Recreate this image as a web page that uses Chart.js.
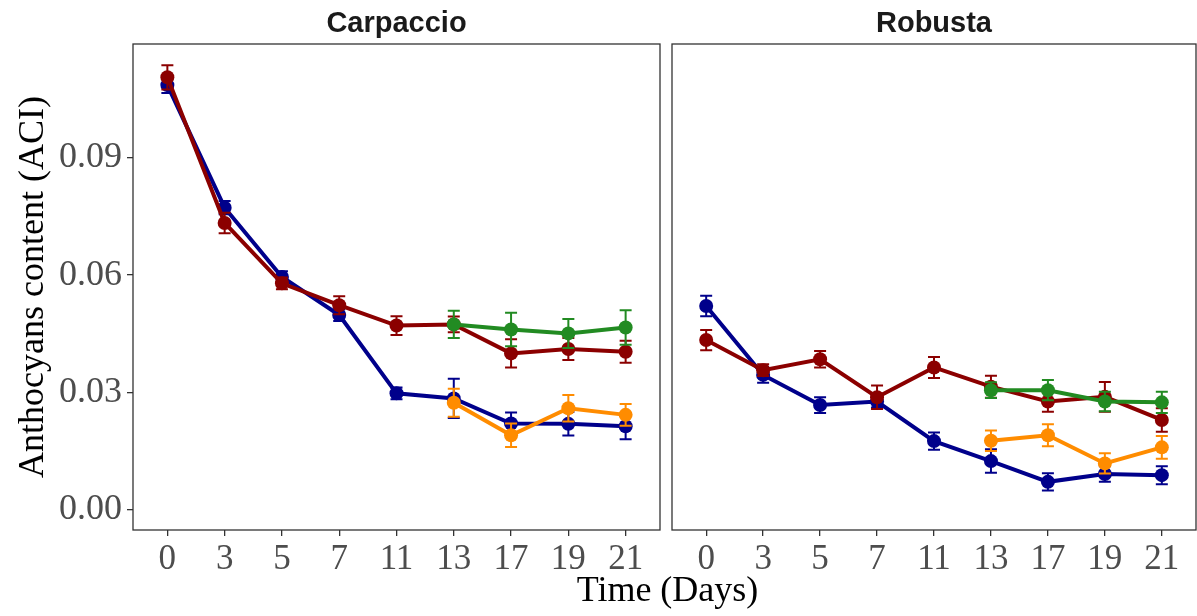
<!DOCTYPE html>
<html>
<head>
<meta charset="utf-8">
<script src="https://cdn.jsdelivr.net/npm/chart.js@4.4.1/dist/chart.umd.min.js"></script>
<style>
  html, body { margin: 0; padding: 0; background: #fff; }
  body { width: 1197px; height: 616px; position: relative; overflow: hidden; }
  .panel { position: absolute; top: 0; height: 616px; }
  .strip { position: absolute; top: 6px; font: bold 29px "Liberation Sans", Arial, sans-serif; color: #1a1a1a; text-align: center; }
  #xtitle { position: absolute; top: 568px; left: 0; width: 1335px; text-align: center; font: 36px "Liberation Serif", "Times New Roman", serif; color: #000; }
</style>
</head>
<body>
<div class="panel" style="left:0;width:661px;"><canvas id="c1"></canvas></div>
<div class="panel" style="left:661px;width:536px;"><canvas id="c2"></canvas></div>
<div class="strip" style="left:133px;width:527px;">Carpaccio</div>
<div class="strip" style="left:672px;width:524px;">Robusta</div>
<div id="xtitle">Time (Days)</div>
<script>
// ---- data ----
const days = ['0', '3', '5', '7', '11', '13', '17', '19', '21'];
const lateIdx = [5, 6, 7, 8];
const yTicks = [0, 0.03, 0.06, 0.09];

const carpBlue = [0.1085, 0.0772, 0.0595, 0.0498, 0.0298, 0.0285, 0.0221, 0.0220, 0.0214];
const carpBlueErr = [0.0020, 0.0017, 0.0015, 0.0015, 0.0015, 0.0050, 0.0028, 0.0030, 0.0033];
const carpRed = [0.1105, 0.0733, 0.0579, 0.0523, 0.0471, 0.0474, 0.0400, 0.0411, 0.0404];
const carpRedErr = [0.0031, 0.0026, 0.0015, 0.0023, 0.0024, 0.0020, 0.0036, 0.0028, 0.0028];
const carpGreen = [0.0474, 0.0461, 0.0451, 0.0466];
const carpGreenErr = [0.0035, 0.0043, 0.0037, 0.0044];
const carpOrange = [0.0274, 0.0191, 0.0260, 0.0243];
const carpOrangeErr = [0.0036, 0.0030, 0.0034, 0.0028];

const robBlue = [0.0521, 0.0345, 0.0268, 0.0277, 0.0176, 0.0125, 0.0072, 0.0092, 0.0089];
const robBlueErr = [0.0026, 0.0020, 0.0020, 0.0015, 0.0022, 0.0030, 0.0022, 0.0020, 0.0023];
const robRed = [0.0434, 0.0357, 0.0385, 0.0288, 0.0364, 0.0315, 0.0277, 0.0289, 0.0230];
const robRedErr = [0.0026, 0.0015, 0.0021, 0.0030, 0.0027, 0.0028, 0.0026, 0.0038, 0.0030];
const robGreen = [0.0306, 0.0306, 0.0277, 0.0275];
const robGreenErr = [0.0020, 0.0026, 0.0025, 0.0027];
const robOrange = [0.0177, 0.0191, 0.0119, 0.0160];
const robOrangeErr = [0.0026, 0.0028, 0.0026, 0.0029];

const colBlue = '#00008B', colRed = '#8B0000', colGreen = '#228B22', colOrange = '#FF8C00';

function pts(vals, errs, idx) {
  return vals.map((v, i) => ({ x: idx ? idx[i] : i, y: v, e: errs[i] }));
}
function ds(label, vals, errs, idx, color, order) {
  return {
    label, data: pts(vals, errs, idx), borderColor: color, backgroundColor: color,
    borderWidth: 4, pointRadius: 7, pointHoverRadius: 7, pointBorderWidth: 0,
    tension: 0, order
  };
}

const errorBars = {
  id: 'errorBars',
  beforeDatasetDraw(chart, args) {
    const d = chart.data.datasets[args.index];
    const xs = chart.scales.x, ys = chart.scales.y;
    const ctx = chart.ctx;
    ctx.save();
    ctx.strokeStyle = d.borderColor;
    ctx.lineWidth = 2;
    d.data.forEach(p => {
      const x = xs.getPixelForValue(p.x);
      const y1 = ys.getPixelForValue(p.y - p.e), y2 = ys.getPixelForValue(p.y + p.e);
      ctx.beginPath();
      ctx.moveTo(x, y1); ctx.lineTo(x, y2);
      ctx.moveTo(x - 6, y1); ctx.lineTo(x + 6, y1);
      ctx.moveTo(x - 6, y2); ctx.lineTo(x + 6, y2);
      ctx.stroke();
    });
    ctx.restore();
  }
};
const frame = {
  id: 'frame',
  afterDraw(chart) {
    const a = chart.chartArea, ctx = chart.ctx;
    ctx.save();
    ctx.strokeStyle = '#333';
    ctx.lineWidth = 1.3;
    ctx.strokeRect(a.left, a.top, a.right - a.left, a.bottom - a.top);
    ctx.restore();
  }
};

function makeChart(id, datasets, showY, padLeft) {
  return new Chart(document.getElementById(id), {
    type: 'line',
    data: { datasets },
    options: {
      responsive: true, maintainAspectRatio: false, animation: false,
      layout: { autoPadding: false, padding: { left: padLeft, right: 1, top: 44, bottom: 0 } },
      plugins: { legend: { display: false }, tooltip: { enabled: false } },
      scales: {
        x: {
          type: 'linear', min: -0.6, max: 8.6,
          afterBuildTicks: s => { s.ticks = days.map((d, i) => ({ value: i })); },
          afterFit: s => { s.height = 86; s.paddingLeft = 0; s.paddingRight = 0; },
          ticks: { callback: (v) => days[v], color: '#4D4D4D', padding: 3, maxRotation: 0, autoSkip: false,
                   font: { family: '"Liberation Serif", "Times New Roman", serif', size: 35 } },
          grid: { display: true, drawOnChartArea: false, drawTicks: true, tickLength: 6, color: '#333', lineWidth: 1.3 },
          border: { display: false }
        },
        y: {
          display: showY,
          min: -0.0051, max: 0.119,
          afterBuildTicks: s => { s.ticks = yTicks.map(v => ({ value: v })); },
          afterFit: s => { if (showY) s.width = 133; s.paddingTop = 0; s.paddingBottom = 0; },
          ticks: { callback: v => v.toFixed(2), color: '#4D4D4D', padding: 5,
                   font: { family: '"Liberation Serif", "Times New Roman", serif', size: 36 } },
          title: { display: showY, text: 'Anthocyans content (ACI)', color: '#000', padding: { top: 12, bottom: 0 },
                   font: { family: '"Liberation Serif", "Times New Roman", serif', size: 36 } },
          grid: { display: true, drawOnChartArea: false, drawTicks: true, tickLength: 6, color: '#333', lineWidth: 1.3 },
          border: { display: false }
        }
      }
    },
    plugins: [errorBars, frame]
  });
}

makeChart('c1', [
  ds('Blue', carpBlue, carpBlueErr, null, colBlue, 4),
  ds('Orange', carpOrange, carpOrangeErr, lateIdx, colOrange, 3),
  ds('Red', carpRed, carpRedErr, null, colRed, 2),
  ds('Green', carpGreen, carpGreenErr, lateIdx, colGreen, 1)
], true, 0);

makeChart('c2', [
  ds('Blue', robBlue, robBlueErr, null, colBlue, 4),
  ds('Orange', robOrange, robOrangeErr, lateIdx, colOrange, 3),
  ds('Red', robRed, robRedErr, null, colRed, 2),
  ds('Green', robGreen, robGreenErr, lateIdx, colGreen, 1)
], false, 11);
</script>
</body>
</html>
